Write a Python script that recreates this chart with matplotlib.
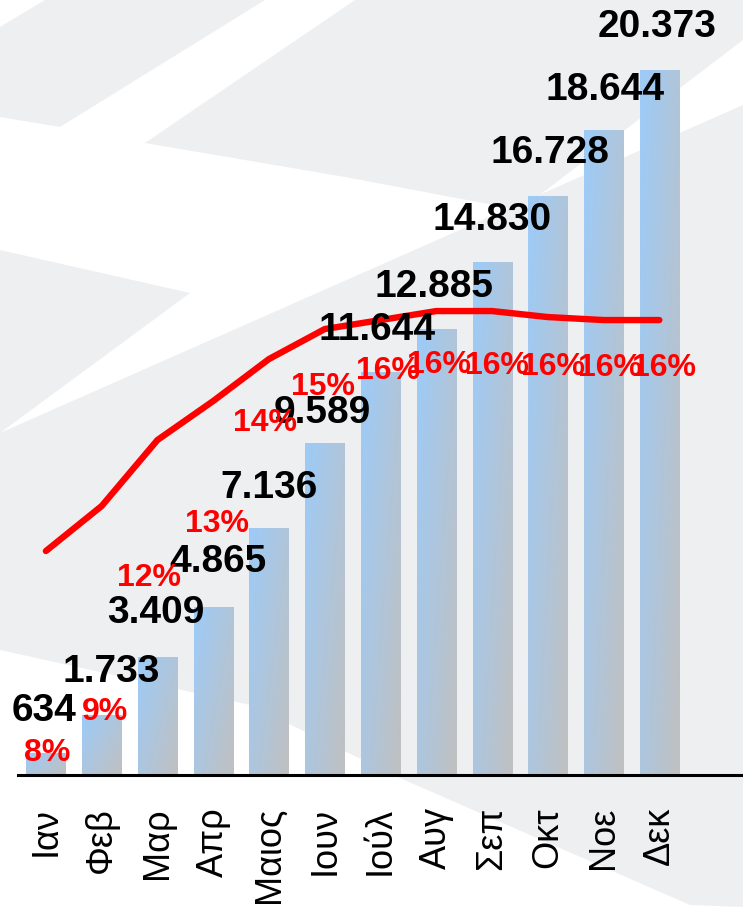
import numpy as np
import matplotlib.pyplot as plt
from matplotlib.patches import Polygon
from matplotlib.colors import to_rgb

# δεδομένα
months = ['Ιαν', 'Φεβ', 'Μαρ', 'Απρ', 'Μαιος', 'Ιουν', 'Ιούλ', 'Αυγ', 'Σεπ', 'Οκτ', 'Νοε', 'Δεκ']
values = [634, 1733, 3409, 4865, 7136, 9589, 11644, 12885, 14830, 16728, 18644, 20373]
pct = [7.9, 9.4, 11.6, 12.9, 14.3, 15.3, 15.6, 15.9, 15.9, 15.7, 15.6, 15.6]

# μετατοπίσεις ετικετών (pixels)
val_off = [(-2, 42), (10, 43), (-2, 44), (5, 45), (0, 40), (-2, 30),
           (-3, 42), (-2, 42), (0, 42), (2, 43), (1, 40), (-2, 43)]
pct_off = [(1, -202), (3, -206), (-8, -138), (4, -123), (-4, -64), (-2, -58),
           (7, -51), (3, -54), (5, -55), (5, -50), (6, -48), (5, -48)]

W, H = 743, 907
fig = plt.figure(figsize=(W / 100, H / 100), dpi=100)
fig.patch.set_facecolor('white')

# γκρι σχήματα φόντου
def px(pts):
    return [(x / W, 1 - y / H) for x, y in pts]

shapes = [
    [(0, 27), (45, 0), (265, 0), (60, 127), (0, 117)],
    [(145, 143), (355, 0), (743, 0), (743, 40), (520, 210), (345, 177)],
    [(0, 250), (190, 293), (0, 433)],
    [(0, 433), (743, 105), (743, 907), (690, 905), (400, 778), (250, 705), (0, 650)],
]
for s in shapes:
    fig.patches.append(Polygon(px(s), closed=True, transform=fig.transFigure,
                               facecolor='#eeeff1', edgecolor='none', zorder=-1))

ax = fig.add_axes([18 / W, (H - 775) / H, 1 - 18 / W, 775 / H])
ax.patch.set_visible(False)
x = np.arange(len(months))
bw = 0.7

bars = ax.bar(x, values, width=bw, color='none', edgecolor='none')
c1 = np.array(to_rgb('#9dcbf8'))
c2 = np.array(to_rgb('#c0c0c0'))
u = np.linspace(0, 1, 40)[None, :]
v = np.linspace(1, 0, 200)[:, None]
t = 0.55 * u + 0.45 * (1 - v)
grad = c1[None, None, :] * (1 - t[..., None]) + c2[None, None, :] * t[..., None]
for b in bars:
    x0, y0 = b.get_x(), b.get_y()
    im = ax.imshow(grad, extent=(x0, x0 + b.get_width(), y0, y0 + b.get_height()),
                   aspect='auto', origin='upper', zorder=1, interpolation='bilinear')
    im.set_clip_path(b)

ax.set_xlim(-0.5, 12.5)
ax.set_ylim(0, 22400)
for sp in ['top', 'right', 'left']:
    ax.spines[sp].set_visible(False)
ax.spines['bottom'].set_linewidth(2.2)
ax.spines['bottom'].set_zorder(5)
ax.set_yticks([])
ax.set_xticks(x)
ax.set_xticklabels(months, rotation=90, fontsize=26, family='Liberation Sans',
                   va='top', ha='center')
ax.tick_params(axis='x', length=0, pad=23)

ax2 = ax.twinx()
ax2.set_ylim(0.433, 26.27)
ax2.set_yticks([])
for sp in ax2.spines.values():
    sp.set_visible(False)
ax2.plot(x, pct, color='#ff0000', lw=4.6, solid_capstyle='round',
         solid_joinstyle='round', zorder=2)

for i, val in enumerate(values):
    lab = f'{val:,}'.replace(',', '.')
    ax2.annotate(lab, xy=(i, val), xycoords=ax.transData, xytext=val_off[i],
                 textcoords='offset pixels', ha='center', va='center',
                 fontsize=28, fontweight='bold', family='Liberation Sans',
                 color='black', zorder=3)

for i, p in enumerate(pct):
    ax2.annotate(f'{p:.0f}%', xy=(i, p), xytext=pct_off[i],
                 textcoords='offset pixels', ha='center', va='center',
                 fontsize=23, fontweight='bold', family='Liberation Sans',
                 color='#ff0000', zorder=4)

fig.savefig('out.png', dpi=100)
